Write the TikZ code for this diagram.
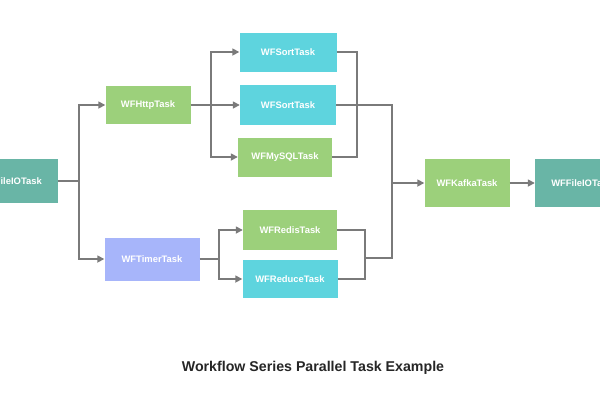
\documentclass[tikz,border=0pt]{standalone}
\usepackage{fontspec}
\setmainfont{Liberation Sans}
\usetikzlibrary{arrows.meta}
\definecolor{tealbox}{HTML}{69B5A6}
\definecolor{greenbox}{HTML}{9CD07B}
\definecolor{cyanbox}{HTML}{5ED4DE}
\definecolor{lilacbox}{HTML}{A7B5FA}
\definecolor{wire}{HTML}{7A7A7A}
\tikzset{
    task/.style={draw=none, text=white, font=\fontsize{9.4}{11}\selectfont\bfseries, inner sep=0pt},
    conn/.style={wire, line width=1.6pt},
    go/.style={conn, -{Triangle[length=7pt,width=7pt]}}
}
\begin{document}
\begin{tikzpicture}[x=1pt,y=-1pt]
    \useasboundingbox (0,0) rectangle (600,400);
    \clip (0,0) rectangle (600,400);
    \fill[white] (0,0) rectangle (600,400);
    % tasks
    \node[task, fill=tealbox, minimum width=94pt, minimum height=44pt] (iofirst) at (11,181) {WFFileIOTask};
    \node[task, fill=greenbox, minimum width=85pt, minimum height=38pt] (http) at (148,105) {WFHttpTask};
    \node[task, fill=lilacbox, minimum width=95pt, minimum height=43pt] (timer) at (152,259) {WFTimerTask};
    \node[task, fill=cyanbox, minimum width=97pt, minimum height=39pt] (sortA) at (288,52) {WFSortTask};
    \node[task, fill=cyanbox, minimum width=96pt, minimum height=40pt] (sortB) at (288,105) {WFSortTask};
    \node[task, fill=greenbox, minimum width=94pt, minimum height=39pt] (mysql) at (285,157) {WFMySQLTask};
    \node[task, fill=greenbox, minimum width=94pt, minimum height=40pt] (redis) at (290,230) {WFRedisTask};
    \node[task, fill=cyanbox, minimum width=95pt, minimum height=38pt] (reduce) at (290,279) {WFReduceTask};
    \node[task, fill=greenbox, minimum width=85pt, minimum height=48pt] (kafka) at (467,183) {WFKafkaTask};
    \node[task, fill=tealbox, minimum width=94pt, minimum height=48pt] (iolast) at (582,183) {WFFileIOTask};
    % joints
    \coordinate (splitA) at (79,181);
    \coordinate (splitB) at (211,105);
    \coordinate (splitC) at (219,259);
    \coordinate (joinA) at (357,105);
    \coordinate (joinB) at (365,258);
    \coordinate (joinC) at (392,183);
    % wires
    \draw[conn] (iofirst.east) -- (splitA);
    \draw[go] (splitA) |- (http.west);
    \draw[go] (splitA) |- (timer.west);
    \draw[conn] (http.east) -- (splitB);
    \draw[go] (splitB) |- (sortA.west);
    \draw[go] (splitB) -- (sortB.west);
    \draw[go] (splitB) |- (mysql.west);
    \draw[conn] (timer.east) -- (splitC);
    \draw[go] (splitC) |- (redis.west);
    \draw[go] (splitC) |- (reduce.west);
    \draw[conn] (sortA.east) -| (joinA);
    \draw[conn] (mysql.east) -| (joinA);
    \draw[conn] (sortB.east) -- (joinA);
    \draw[conn] (redis.east) -| (joinB);
    \draw[conn] (reduce.east) -| (joinB);
    \draw[conn] (joinA) -| (joinC);
    \draw[conn] (joinB) -| (joinC);
    \draw[go] (joinC) -- (kafka.west);
    \draw[go] (kafka.east) -- (iolast.west);
    % caption
    \node[font=\fontsize{14.2}{16}\selectfont\bfseries, text=black!85] (caption) at (313,368) {Workflow Series Parallel Task Example};
\end{tikzpicture}
\end{document}
